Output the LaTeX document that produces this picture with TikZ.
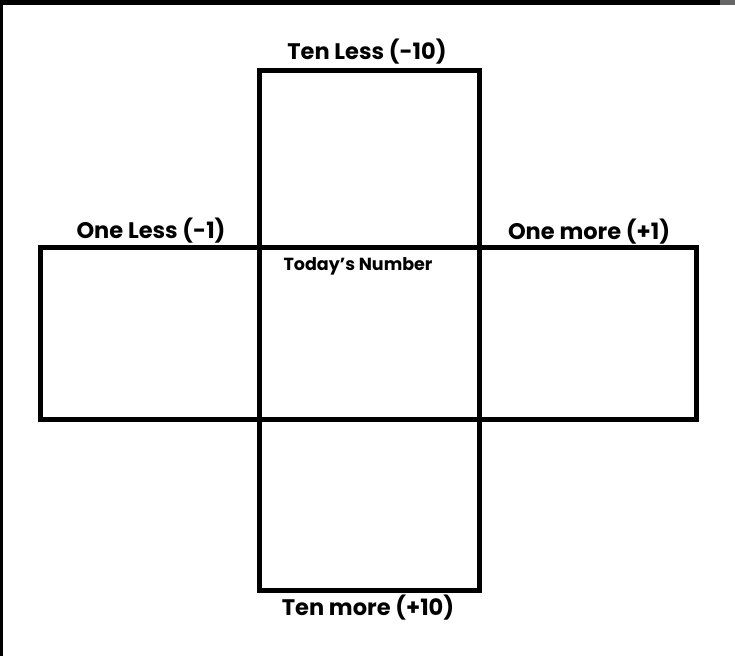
\documentclass[tikz,border=0pt]{standalone}
\usepackage{fontspec}
\setmainfont{Poppins}
\begin{document}
\begin{tikzpicture}[x=1pt,y=-1pt,
  box/.style={draw=black,line width=5pt,inner sep=0pt,fill=none},
  lbl/.style={font=\fontsize{22.5}{24}\selectfont\bfseries,inner sep=0pt},
  small/.style={font=\fontsize{17.5}{19}\selectfont\bfseries,inner sep=0pt}]
\useasboundingbox (0,0) rectangle (735,656);
\fill[white] (0,0) rectangle (735,656);
% frame edges
\fill[black] (0,0) rectangle (720,5);
\fill[black!60] (720,0) rectangle (735,5);
\fill[black] (0,0) rectangle (3,656);
% boxes
\node[box,minimum width=656pt,minimum height=172pt] (row) at (368,333) {};
\node[box,minimum width=219.5pt,minimum height=519.5pt] (col) at (369.25,330.25) {};
% labels
\node[lbl] (tenless) at (367,52) {Ten Less (-10)};
\node[lbl] (oneless) at (151,231) {One Less (-1)};
\node[lbl] (onemore) at (589,232) {One more (+1)};
\node[small] (today) at (358,266) {Today's Number};
\node[lbl] (tenmore) at (368,608) {Ten more (+10)};
\end{tikzpicture}
\end{document}
